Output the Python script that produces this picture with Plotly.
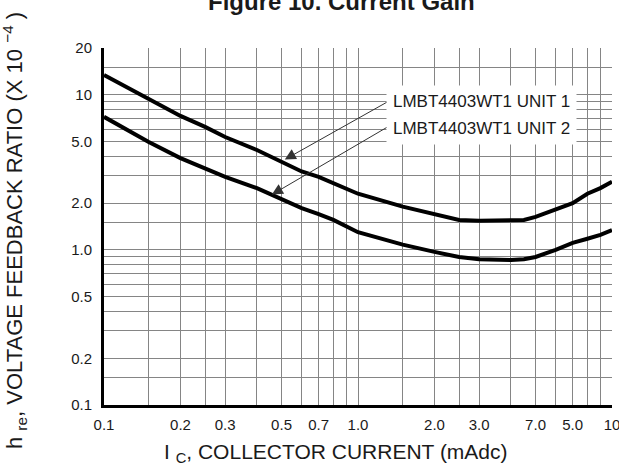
import math
import plotly.graph_objects as go

# ---- data ----
current_ma = [0.1, 0.15, 0.2, 0.25, 0.3, 0.4, 0.5, 0.6, 0.7, 0.8, 1.0, 1.5, 2.0, 2.5,
              3.0, 4.0, 4.5, 5.0, 6.0, 7.0, 8.0, 9.0, 10.0]
unit1_hre = [13.4, 9.4, 7.3, 6.2, 5.34, 4.4, 3.7, 3.2, 2.95, 2.7, 2.3, 1.9, 1.7, 1.56,
             1.54, 1.54, 1.56, 1.63, 1.81, 2.0, 2.3, 2.5, 2.75]
unit2_hre = [7.2, 4.96, 3.9, 3.37, 2.95, 2.5, 2.13, 1.86, 1.7, 1.56, 1.3, 1.08, 0.97, 0.90,
             0.87, 0.86, 0.87, 0.90, 1.0, 1.11, 1.18, 1.25, 1.34]
series_names = ["LMBT4403WT1 UNIT 1", "LMBT4403WT1 UNIT 2"]
arrow_points = [(0.515, 3.82), (0.458, 2.27)]  # where the label arrows touch the curves

x_tick_vals = [0.1, 0.2, 0.3, 0.5, 0.7, 1, 2, 3, 5, 7, 10]
x_tick_text = ["0.1", "0.2", "0.3", "0.5", "0.7", "1.0", "2.0", "3.0", "7.0", "5.0", "10"]
x_minor_grid = [0.15, 0.25, 0.4, 0.6, 0.8, 0.9, 1.5, 2.5, 4, 6, 8, 9]
y_tick_vals = [0.1, 0.2, 0.5, 1, 2, 5, 10, 20]
y_tick_text = ["0.1", "0.2", "0.5", "1.0", "2.0", "5.0", "10", "20"]
y_minor_grid = [0.15, 0.3, 0.4, 0.6, 0.7, 0.8, 0.9, 1.5, 3, 4, 6, 7, 8, 9, 15]

FONT = "Liberation Sans, Arial, sans-serif"
GRID = "#858585"
TXT = "#1a1a1a"

W, H = 619, 472
L, R, T, B = 104, 7, 48, 67
PW, PH = W - L - R, H - T - B

fig = go.Figure()
for vals in (unit1_hre, unit2_hre):
    fig.add_trace(go.Scatter(x=current_ma, y=vals, mode="lines",
                             line=dict(color="black", width=4),
                             showlegend=False, hoverinfo="skip"))

fig.update_layout(
    width=W, height=H,
    margin=dict(l=L, r=R, t=T, b=B, pad=0, autoexpand=False),
    paper_bgcolor="white", plot_bgcolor="white",
    font=dict(family=FONT, color=TXT),
    showlegend=False,
)
fig.update_xaxes(
    type="log", range=[math.log10(0.1), math.log10(10)], automargin=False,
    tickmode="array", tickvals=x_tick_vals, ticktext=x_tick_text,
    tickfont=dict(size=15, family=FONT, color=TXT),
    ticks="outside", ticklen=4, tickcolor="rgba(0,0,0,0)",
    ticklabeloverflow="allow",
    showgrid=True, gridcolor=GRID, gridwidth=1,
    minor=dict(tickmode="array", tickvals=x_minor_grid, showgrid=True,
               gridcolor=GRID, gridwidth=1, ticks=""),
    showline=True, linecolor="black", linewidth=3, zeroline=False,
)
fig.update_yaxes(
    type="log", range=[math.log10(0.1), math.log10(20)], automargin=False,
    tickmode="array", tickvals=y_tick_vals, ticktext=y_tick_text,
    tickfont=dict(size=15, family=FONT, color=TXT),
    ticks="outside", ticklen=6, tickcolor="rgba(0,0,0,0)",
    showgrid=True, gridcolor=GRID, gridwidth=1,
    minor=dict(tickmode="array", tickvals=y_minor_grid, showgrid=True,
               gridcolor=GRID, gridwidth=1, ticks=""),
    showline=True, linecolor="black", linewidth=3, zeroline=False,
)


def px_x(p):
    return (p - L) / PW


def px_y(p):
    return (H - B - p) / PH


annotations = []
# arrows from labels to curves
offsets = [(105, -59), (118, -69)]
for (px, py), (ax, ay) in zip(arrow_points, offsets):
    annotations.append(dict(x=math.log10(px), y=math.log10(py), xref="x", yref="y",
                            text="", showarrow=True, ax=ax, ay=ay,
                            arrowhead=2, arrowsize=2.2, arrowwidth=1, arrowcolor="#333"))
# series labels on white boxes
label_px = [101, 128]
for name, yy in zip(series_names, label_px):
    annotations.append(dict(x=px_x(386), y=px_y(yy), xref="paper", yref="paper",
                            xanchor="left", yanchor="middle", text=name, showarrow=False,
                            font=dict(size=17, family=FONT, color=TXT),
                            bgcolor="white", borderpad=6))
# title
annotations.append(dict(x=px_x(341), y=px_y(17), xref="paper", yref="paper",
                        xanchor="center", yanchor="bottom",
                        text="<b>Figure 10. Current Gain</b>", showarrow=False,
                        font=dict(size=24, family=FONT, color=TXT)))
# axis titles
annotations.append(dict(x=px_x(336), y=px_y(453), xref="paper", yref="paper",
                        xanchor="center", yanchor="middle",
                        text="I <sub>C</sub>, COLLECTOR CURRENT (mAdc)", showarrow=False,
                        font=dict(size=21, family=FONT, color=TXT)))
annotations.append(dict(x=px_x(15), y=px_y(231), xref="paper", yref="paper",
                        xanchor="center", yanchor="middle", textangle=-90,
                        text="h <sub>re</sub>, VOLTAGE FEEDBACK RATIO (X 10 <sup>−4</sup> )",
                        showarrow=False,
                        font=dict(size=22, family=FONT, color=TXT)))
fig.update_layout(annotations=annotations)

post = (
    "document.documentElement.style.overflow='hidden';"
    "document.body.style.margin='0';document.body.style.padding='0';"
    "document.body.style.overflow='hidden';"
)
fig.write_html("out.html", config={"displayModeBar": False}, post_script=post)
